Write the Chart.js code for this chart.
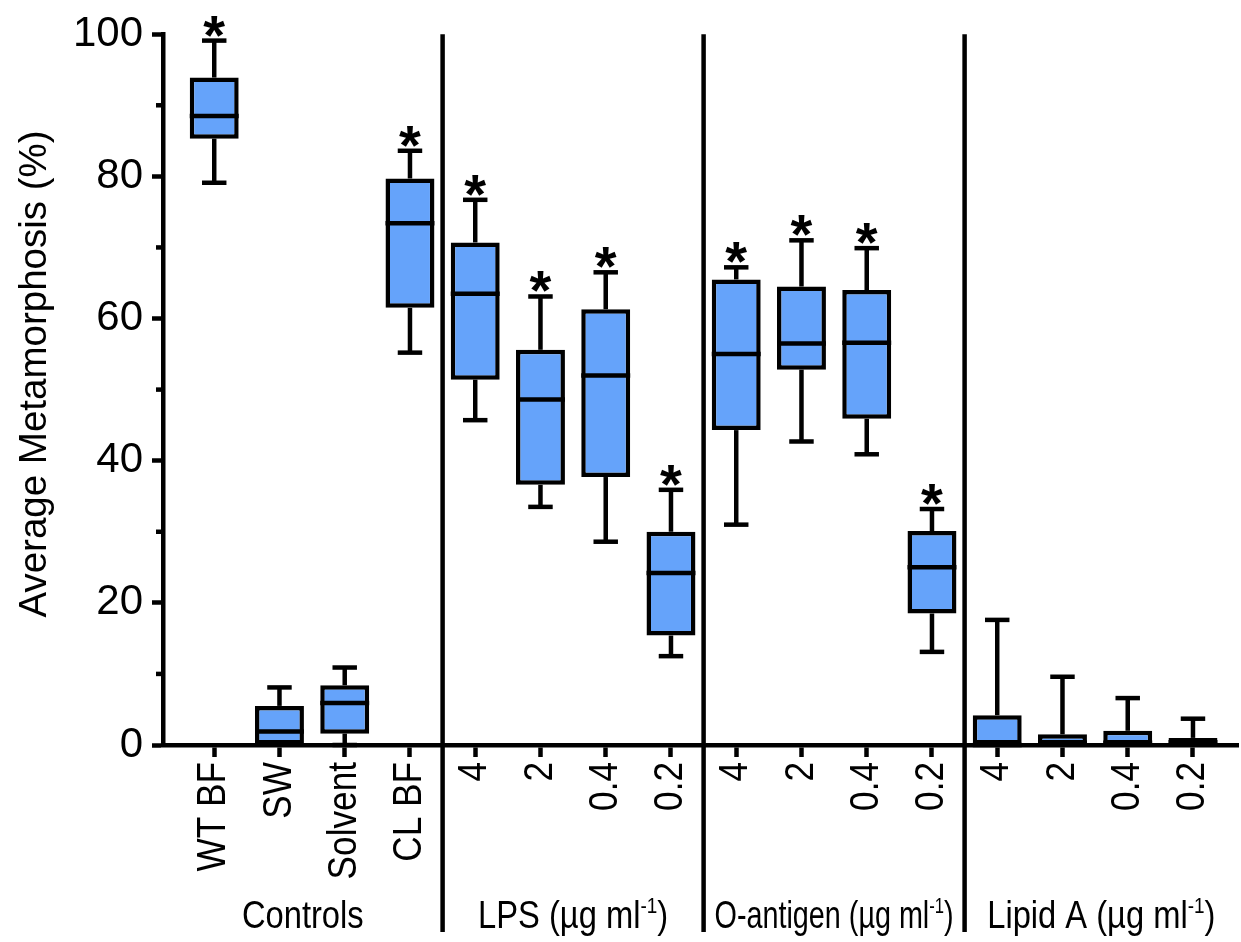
<!DOCTYPE html>
<html>
<head>
<meta charset="utf-8">
<script src="https://cdn.jsdelivr.net/npm/chart.js@4.4.1/dist/chart.umd.min.js"></script>
<style>
html, body { margin: 0; padding: 0; background: #fff; }
</style>
</head>
<body>
<canvas id="grafico-metamorfose" width="1241" height="942"></canvas>
<script>
// categorias e valores (caixa: min, q1, mediana, q3, max)
var categorias = ['WT BF', 'SW', 'Solvent', 'CL BF', '4', '2', '0.4', '0.2', '4', '2', '0.4', '0.2', '4', '2', '0.4', '0.2'];
var grupos = ['Controls', 'LPS', 'O-antigen', 'Lipid A'];
var tamanhoGrupo = [4, 4, 4, 4];
var unidade = ['', 'µg ml', 'µg ml', 'µg ml'];
var expoente = '-1';
var minimos = [79.1, 0, 0, 55.2, 45.7, 33.5, 28.6, 12.5, 31.0, 42.7, 40.9, 13.1, 0, 0, 0, 0];
var q1 = [85.3, 0, 1.6, 61.5, 51.4, 36.6, 37.7, 15.4, 44.3, 52.8, 45.9, 18.5, 0, 0, 0, 0];
var medianas = [88.5, 1.9, 5.9, 73.4, 63.5, 48.6, 52.0, 24.2, 55.0, 56.5, 56.6, 25.0, 0, 0.3, 0.3, 0.4];
var q3 = [93.9, 5.5, 8.4, 79.7, 70.7, 55.6, 61.3, 30.0, 65.5, 64.5, 64.0, 30.1, 4.2, 1.5, 2.0, 1.0];
var maximos = [99.1, 8.1, 10.9, 83.6, 76.7, 63.1, 66.5, 35.9, 67.2, 71.0, 69.9, 33.2, 17.6, 9.6, 6.6, 3.7];
var significativo = [true, false, false, true, true, true, true, true, true, true, true, true, false, false, false, false];
var ticksY = [0, 20, 40, 60, 80, 100];
var ticksMenores = [10, 30, 50, 70, 90];
var tituloY = 'Average Metamorphosis (%)';

var fonte = '"Liberation Sans", Arial, Helvetica, sans-serif';
var espessura = 4.5;

function linha(ctx, x1, y1, x2, y2) {
    ctx.beginPath();
    ctx.moveTo(x1, y1);
    ctx.lineTo(x2, y2);
    ctx.stroke();
}

var caixas = {
    id: 'caixas',
    afterDatasetsDraw: function (chart) {
        var ctx = chart.ctx;
        var y = chart.scales.y;
        var meta = chart.getDatasetMeta(0);
        ctx.save();
        ctx.strokeStyle = '#000';
        ctx.fillStyle = '#000';
        ctx.lineWidth = espessura;
        meta.data.forEach(function (barra, i) {
            var p = barra.getProps(['x', 'width'], true);
            var meio = p.width / 2;
            var tampa = p.width / 4;
            var yMax = y.getPixelForValue(maximos[i]);
            var yMin = y.getPixelForValue(minimos[i]);
            // bigodes
            linha(ctx, p.x, y.getPixelForValue(q3[i]), p.x, yMax);
            linha(ctx, p.x - tampa, yMax, p.x + tampa, yMax);
            if (minimos[i] < q1[i]) {
                linha(ctx, p.x, y.getPixelForValue(q1[i]), p.x, yMin);
                linha(ctx, p.x - tampa, yMin, p.x + tampa, yMin);
            }
            // mediana
            linha(ctx, p.x - meio, y.getPixelForValue(medianas[i]), p.x + meio, y.getPixelForValue(medianas[i]));
            // asterisco
            if (significativo[i]) {
                ctx.font = 'bold 56px ' + fonte;
                ctx.textAlign = 'center';
                ctx.textBaseline = 'alphabetic';
                var m = ctx.measureText('*');
                ctx.fillText('*', p.x, yMax - 4 - m.actualBoundingBoxDescent);
            }
        });
        ctx.restore();
    },
    afterDraw: function (chart) {
        var ctx = chart.ctx;
        var x = chart.scales.x;
        var y = chart.scales.y;
        ctx.save();
        ctx.strokeStyle = '#000';
        ctx.fillStyle = '#000';

        // ticks menores do eixo y
        ctx.lineWidth = espessura;
        ticksMenores.forEach(function (v) {
            var py = y.getPixelForValue(v);
            linha(ctx, x.left - 7, py, x.left, py);
        });

        // separadores dos grupos
        var acumulado = 0;
        var limites = [x.min];
        tamanhoGrupo.forEach(function (n, g) {
            acumulado += n;
            if (g < tamanhoGrupo.length - 1) {
                var px = x.getPixelForValue(acumulado - 0.5);
                linha(ctx, px, y.top, px, 932);
                limites.push(acumulado - 0.5);
            }
        });
        limites.push(x.max);

        // titulo do eixo y
        ctx.save();
        ctx.font = '38.5px ' + fonte;
        ctx.textAlign = 'center';
        ctx.textBaseline = 'middle';
        ctx.translate(35, 374);
        ctx.rotate(-Math.PI / 2);
        ctx.fillText(tituloY, 0, 0);
        ctx.restore();

        // rotulos das categorias (verticais)
        ctx.font = '40px ' + fonte;
        ctx.textAlign = 'right';
        ctx.textBaseline = 'middle';
        categorias.forEach(function (c, i) {
            ctx.save();
            ctx.translate(x.getPixelForValue(i), y.bottom + 17);
            ctx.rotate(-Math.PI / 2);
            ctx.scale(0.88, 1);
            ctx.fillText(c, 0, 0);
            ctx.restore();
        });

        // nomes dos grupos (estreitados para caber entre os separadores)
        ctx.textAlign = 'left';
        ctx.textBaseline = 'alphabetic';
        grupos.forEach(function (nome, g) {
            var esq = x.getPixelForValue(limites[g]);
            var dir = x.getPixelForValue(limites[g + 1]);
            var cx = (esq + dir) / 2;
            var principal = unidade[g] ? nome + ' (' + unidade[g] : nome;
            ctx.font = '38px ' + fonte;
            var w1 = ctx.measureText(principal).width;
            var w3 = unidade[g] ? ctx.measureText(')').width : 0;
            ctx.font = '22px ' + fonte;
            var w2 = unidade[g] ? ctx.measureText(expoente).width : 0;
            var total = w1 + w2 + w3;
            var k = Math.min(0.86, (dir - esq - 22) / total);
            ctx.save();
            ctx.translate(cx, 928);
            ctx.scale(k, 1);
            ctx.font = '38px ' + fonte;
            ctx.fillText(principal, -total / 2, 0);
            if (unidade[g]) {
                ctx.font = '22px ' + fonte;
                ctx.fillText(expoente, -total / 2 + w1, -15);
                ctx.font = '38px ' + fonte;
                ctx.fillText(')', -total / 2 + w1 + w2, 0);
            }
            ctx.restore();
        });
        ctx.restore();
    }
};

var ctx = document.getElementById('grafico-metamorfose').getContext('2d');
var grafico = new Chart(ctx, {
    type: 'bar',
    data: {
        datasets: [{
            data: categorias.map(function (c, i) { return { x: i, y: [q1[i], q3[i]] }; }),
            backgroundColor: '#65a3fa',
            borderColor: '#000',
            borderWidth: espessura,
            borderSkipped: false,
            barPercentage: 0.75,
            categoryPercentage: 1
        }]
    },
    options: {
        responsive: false,
        animation: false,
        devicePixelRatio: 1,
        layout: { padding: { top: 33, right: 3, left: 0, bottom: 0 } },
        plugins: {
            legend: { display: false },
            tooltip: { enabled: false }
        },
        scales: {
            x: {
                type: 'linear',
                offset: false,
                min: -0.785,
                max: 15.69,
                afterFit: function (s) { s.height = 197; },
                afterBuildTicks: function (s) {
                    s.ticks = categorias.map(function (c, i) { return { value: i }; });
                },
                ticks: { display: false },
                grid: { offset: false, drawOnChartArea: false, tickLength: 12, tickWidth: espessura, tickColor: '#000' },
                border: { color: '#000', width: espessura }
            },
            y: {
                min: 0,
                max: 100,
                afterFit: function (s) { s.width = 163; },
                afterBuildTicks: function (s) {
                    s.ticks = ticksY.map(function (v) { return { value: v }; });
                },
                ticks: { color: '#000', padding: 9, font: { family: fonte, size: 42 } },
                grid: { drawOnChartArea: false, tickLength: 11, tickWidth: espessura, tickColor: '#000' },
                border: { color: '#000', width: espessura }
            }
        }
    },
    plugins: [caixas]
});
</script>
</body>
</html>
